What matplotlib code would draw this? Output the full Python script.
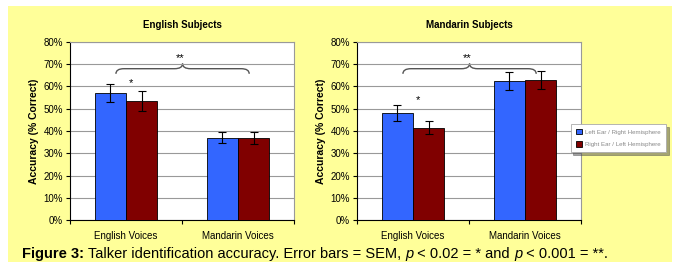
import matplotlib
matplotlib.use("Agg")
from matplotlib import pyplot as plt
from matplotlib.patches import Rectangle, PathPatch
from matplotlib.path import Path
import numpy as np

plt.rcParams['font.family'] = ['Liberation Sans', 'DejaVu Sans']

categories = ["English Voices", "Mandarin Voices"]
series_names = ["Left Ear / Right Hemisphere", "Right Ear / Left Hemisphere"]

eng_left = [57.0, 37.0]
eng_left_err = [4.0, 2.5]
eng_right = [53.5, 37.0]
eng_right_err = [4.5, 2.7]

man_left = [48.0, 62.5]
man_left_err = [3.5, 4.0]
man_right = [41.5, 63.0]
man_right_err = [3.0, 4.0]

panels = [
    ("English Subjects", eng_left, eng_left_err, eng_right, eng_right_err, 61.5),
    ("Mandarin Subjects", man_left, man_left_err, man_right, man_right_err, 54.0),
]

blue = "#3366FF"
red = "#800000"
bg = "#FFFF99"

fig = plt.figure(figsize=(6.75, 2.62), dpi=100)
fig.patch.set_facecolor("white")
fig.patches.append(Rectangle((8 / 675, 0), 664 / 675, 256 / 262,
                             transform=fig.transFigure, facecolor=bg,
                             edgecolor="none", zorder=-10))


def brace(ax, x0, x1, y, h):
    # curly brace opening downward, tip pointing up
    xm = (x0 + x1) / 2
    d = (x1 - x0) * 0.06
    verts = [(x0, y - h), (x0, y), (x0 + d, y),
             (xm - d, y), (xm, y), (xm, y + h),
             (xm, y + h), (xm, y), (xm + d, y),
             (x1 - d, y), (x1, y), (x1, y - h)]
    codes = [Path.MOVETO, Path.CURVE3, Path.CURVE3,
             Path.LINETO, Path.CURVE3, Path.CURVE3,
             Path.MOVETO, Path.CURVE3, Path.CURVE3,
             Path.LINETO, Path.CURVE3, Path.CURVE3]
    ax.add_patch(PathPatch(Path(verts, codes), facecolor="none",
                           edgecolor="#555555", lw=1.0, clip_on=False))


lefts = [70 / 675, 357 / 675]
x = np.arange(len(categories))
w = 0.28
for i, (title, l, le, r, re_, star_y) in enumerate(panels):
    ax = fig.add_axes([lefts[i], 42 / 262, 224 / 675, 178 / 262])
    ax.set_facecolor("white")
    b1 = ax.bar(x - w / 2, l, w, color=blue, edgecolor="black", lw=0.6, zorder=3)
    b2 = ax.bar(x + w / 2, r, w, color=red, edgecolor="black", lw=0.6, zorder=3)
    ax.errorbar(x - w / 2, l, yerr=le, fmt="none", ecolor="black",
                elinewidth=0.8, capsize=3, capthick=0.8, zorder=4)
    ax.errorbar(x + w / 2, r, yerr=re_, fmt="none", ecolor="black",
                elinewidth=0.8, capsize=3, capthick=0.8, zorder=4)
    ax.set_xlim(-0.5, 1.5)
    ax.set_ylim(0, 80)
    ax.set_yticks(range(0, 81, 10))
    ax.set_yticklabels([f"{v}%" for v in range(0, 81, 10)], fontsize=7)
    ax.yaxis.grid(True, color="#999999", lw=0.8, zorder=0)
    ax.set_xticks([-0.5, 0.5, 1.5])
    ax.set_xticklabels([])
    ax.set_xticks(x, minor=True)
    ax.set_xticklabels(categories, minor=True, fontsize=7)
    ax.tick_params(axis="x", which="minor", length=0, pad=8)
    ax.tick_params(axis="x", which="major", length=3, direction="out")
    ax.tick_params(axis="y", length=3, direction="out", pad=2)
    for s in ["top", "right"]:
        ax.spines[s].set_color("#999999")
        ax.spines[s].set_linewidth(0.8)
    for s in ["left", "bottom"]:
        ax.spines[s].set_color("black")
    ax.set_ylabel("Accuracy (% Correct)", fontsize=7.5, fontweight="bold",
                  labelpad=3)
    ax.set_title(title, fontsize=7, fontweight="bold", pad=10)
    brace(ax, -0.09, 1.1, 68, 2.3)
    ax.text(0.5 - 0.02, 70.5, "**", ha="center", va="bottom", fontsize=8)
    ax.text(0.04, star_y, "*", ha="center", va="center", fontsize=8)
    if i == 1:
        leg = ax.legend([b1, b2], series_names, loc="center left",
                        bbox_to_anchor=(0.94, 0.46), fontsize=4.4,
                        frameon=True, fancybox=False, shadow=True,
                        handlelength=1.0, handleheight=0.9,
                        borderpad=0.8, labelspacing=1.1,
                        handletextpad=0.6, labelcolor="#888888")
        leg.get_frame().set_edgecolor("#aaaaaa")
        leg.get_frame().set_linewidth(0.6)

# caption built from pieces so bold / italic parts sit inline
pieces = [("Figure 3:", "bold", "normal"),
          (" Talker identification accuracy. Error bars = SEM, ", "normal", "normal"),
          ("p", "normal", "italic"),
          (" < 0.02 = * and ", "normal", "normal"),
          ("p", "normal", "italic"),
          (" < 0.001 = **.", "normal", "normal")]
renderer = fig.canvas.get_renderer()
xpos = 22
for txt, wt, st in pieces:
    t = fig.text(xpos / 675, 8 / 262, txt, fontsize=10.5, fontweight=wt,
                 fontstyle=st, ha="left", va="center")
    xpos += t.get_window_extent(renderer).width

fig.savefig("out.png", dpi=100, facecolor=fig.get_facecolor())
